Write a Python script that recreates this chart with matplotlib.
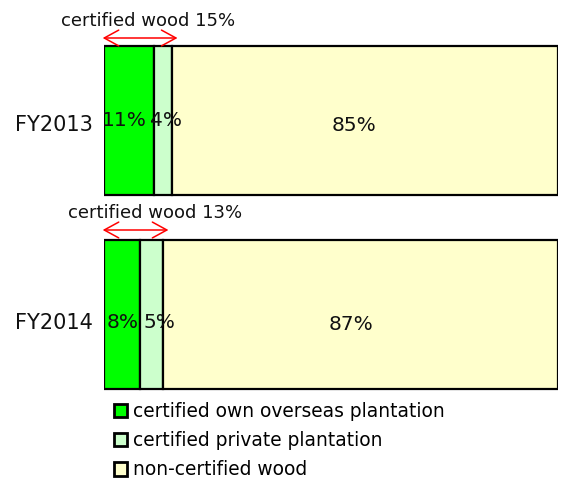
import matplotlib.pyplot as plt
from matplotlib.patches import Patch

plt.rcParams['font.family'] = 'DejaVu Sans'

years = ['FY2013', 'FY2014']
own_overseas = [11, 8]
private = [4, 5]
non_certified = [85, 87]
certified_total = [15, 13]

series_labels = ['certified own overseas plantation',
                 'certified private plantation',
                 'non-certified wood']
colors = ['#00FF00', '#CCFFCC', '#FFFFCC']

W, H = 565, 479
fig = plt.figure(figsize=(W / 100, H / 100), dpi=100)
# axes: x in percent across the bar width, y in figure pixels (top = 0)
ax = fig.add_axes([104 / W, 0, (558 - 104) / W, 1])
ax.set_xlim(0, 100)
ax.set_ylim(H, 0)
ax.axis('off')

bar_y = [120, 314.5]
bar_h = 149
# small nudges of the value labels (x in %, y in px), as placed in the original
label_dx = [[-1.1, 0.7, -2.5], [0.0, 1.8, -2.1]]
label_y = [[120, 120, 125], [322, 322, 325]]
year_y = [125, 323]
note_x = [9.6, 11.3]
arrow_y = [38, 230]

for i, yr in enumerate(years):
    left = 0
    vals = [own_overseas[i], private[i], non_certified[i]]
    for j, (val, col) in enumerate(zip(vals, colors)):
        ax.barh(bar_y[i], val, left=left, height=bar_h, color=col,
                edgecolor='black', linewidth=1.6)
        ax.text(left + val / 2 + label_dx[i][j], label_y[i][j], f'{val}%',
                ha='center', va='center', fontsize=14.5, color='#111111')
        left += val
    ax.text(-2.4, year_y[i], yr, ha='right', va='center',
            fontsize=15, color='#111111')

    # certified wood bracket
    ax.annotate('', xy=(-0.3, arrow_y[i]),
                xytext=(certified_total[i] + 1.2, arrow_y[i]),
                annotation_clip=False,
                arrowprops=dict(arrowstyle='<->,head_length=0.55,head_width=0.3',
                                color='red', lw=1.1, shrinkA=0, shrinkB=0,
                                mutation_scale=19))
    ax.text(note_x[i], arrow_y[i] - 17,
            f'certified wood {certified_total[i]}%', ha='center',
            va='center', fontsize=13, color='#111111')

handles = [Patch(facecolor=c, edgecolor='black', linewidth=2) for c in colors]
fig.legend(handles, series_labels, loc='upper left',
           bbox_to_anchor=(114 / W, 1 - 402 / H), frameon=False,
           fontsize=13.4, handlelength=0.72, handleheight=0.72,
           handletextpad=0.3, labelspacing=0.55, borderaxespad=0,
           borderpad=0)

fig.savefig('out.png', dpi=100)
